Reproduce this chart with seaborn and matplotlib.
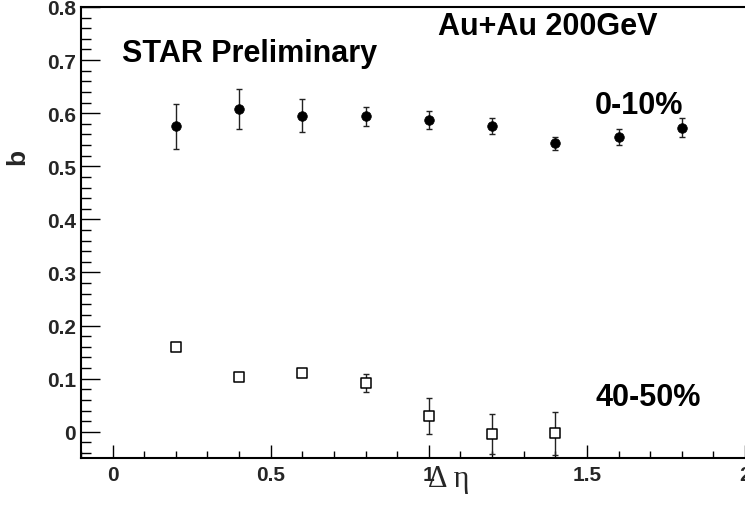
import matplotlib
matplotlib.use("Agg")
import matplotlib.pyplot as plt
import seaborn as sns
import pandas as pd
from matplotlib.ticker import FixedLocator, MultipleLocator

# ---- data ----
deta_central = [0.2, 0.4, 0.6, 0.8, 1.0, 1.2, 1.4, 1.6, 1.8]
b_central = [0.575, 0.608, 0.595, 0.594, 0.588, 0.576, 0.543, 0.556, 0.573]
b_central_err = [0.043, 0.038, 0.031, 0.018, 0.017, 0.015, 0.013, 0.015, 0.018]

deta_peripheral = [0.2, 0.4, 0.6, 0.8, 1.0, 1.2, 1.4]
b_peripheral = [0.159, 0.104, 0.111, 0.092, 0.030, -0.004, -0.003]
b_peripheral_err = [0.004, 0.004, 0.004, 0.017, 0.034, 0.037, 0.041]

x_tick_values = [0, 0.5, 1, 1.5, 2]
x_tick_labels = ["0", "0.5", "1", "1.5", "2"]
y_tick_values = [0, 0.1, 0.2, 0.3, 0.4, 0.5, 0.6, 0.7, 0.8]
y_tick_labels = ["0", "0.1", "0.2", "0.3", "0.4", "0.5", "0.6", "0.7", "0.8"]

df_c = pd.DataFrame({"deta": deta_central, "b": b_central, "err": b_central_err})
df_p = pd.DataFrame({"deta": deta_peripheral, "b": b_peripheral, "err": b_peripheral_err})

sns.set_style("white")
plt.rcParams["font.family"] = ["Liberation Sans", "DejaVu Sans"]

W, H = 745, 506
fig = plt.figure(figsize=(W / 100, H / 100), dpi=100)
ax = fig.add_axes([81 / W, 1 - 459.3 / H, (745 - 81) / W, (459.3 - 8) / H])

# error bars (under markers)
ax.errorbar(df_c["deta"], df_c["b"], yerr=df_c["err"], fmt="none", ecolor="#222222",
            elinewidth=1.0, capsize=2.0, capthick=1.0, zorder=1)
ax.errorbar(df_p["deta"], df_p["b"], yerr=df_p["err"], fmt="none", ecolor="#222222",
            elinewidth=1.0, capsize=2.0, capthick=1.0, zorder=1)

sns.scatterplot(data=df_c, x="deta", y="b", ax=ax, marker="o", s=48,
                color="black", edgecolor="black", linewidth=0.5, zorder=3, legend=False)
sns.scatterplot(data=df_p, x="deta", y="b", ax=ax, marker="s", s=50,
                facecolor="white", edgecolor="black", linewidth=1.1, zorder=3, legend=False)

ax.set_xlim(-0.1, 2.0)
ax.set_ylim(-0.05, 0.8)
ax.set_xlabel("")
ax.set_ylabel("")

ax.xaxis.set_major_locator(FixedLocator(x_tick_values))
ax.set_xticklabels(x_tick_labels)
ax.xaxis.set_minor_locator(MultipleLocator(0.1))
ax.yaxis.set_major_locator(FixedLocator(y_tick_values))
ax.set_yticklabels(y_tick_labels)
ax.yaxis.set_minor_locator(MultipleLocator(0.02))

ax.tick_params(axis="y", which="major", direction="in", length=13.7, width=1.0,
               pad=3.6, labelsize=15, left=True, right=False, color="black")
ax.tick_params(axis="y", which="minor", direction="in", length=7.2, width=1.0,
               left=True, right=False, color="black")
ax.tick_params(axis="x", which="major", direction="in", length=9.4, width=1.0,
               pad=5, labelsize=15, bottom=True, top=False, color="black")
ax.tick_params(axis="x", which="minor", direction="in", length=5, width=1.0,
               bottom=True, top=False, color="black")
for lab in ax.get_xticklabels() + ax.get_yticklabels():
    lab.set_fontweight("bold")

for side in ["left", "bottom", "top"]:
    ax.spines[side].set_visible(True)
    ax.spines[side].set_color("black")
    ax.spines[side].set_linewidth(1.5)
ax.spines["right"].set_visible(False)

# texts
bold = dict(fontweight="bold", fontsize=22, color="black")
fig.text(122 / W, 1 - 61.7 / H, "STAR Preliminary", va="baseline", ha="left", **bold)
fig.text(438 / W, 1 - 35 / H, "Au+Au 200GeV", va="baseline", ha="left", **bold)
fig.text(595 / W, 1 - 114.5 / H, "0-10%", va="baseline", ha="left", **bold)
fig.text(596 / W, 1 - 406.5 / H, "40-50%", va="baseline", ha="left", **bold)

fig.text(17.5 / W, 1 - 157 / H, "b", rotation=90, va="center", ha="center",
         fontweight="bold", fontsize=19)
fig.text(428 / W, 1 - 486.7 / H, "Δ η", va="baseline", ha="left", fontsize=22,
         family=["Liberation Serif", "DejaVu Serif"])

fig.savefig("out.png", dpi=100)
